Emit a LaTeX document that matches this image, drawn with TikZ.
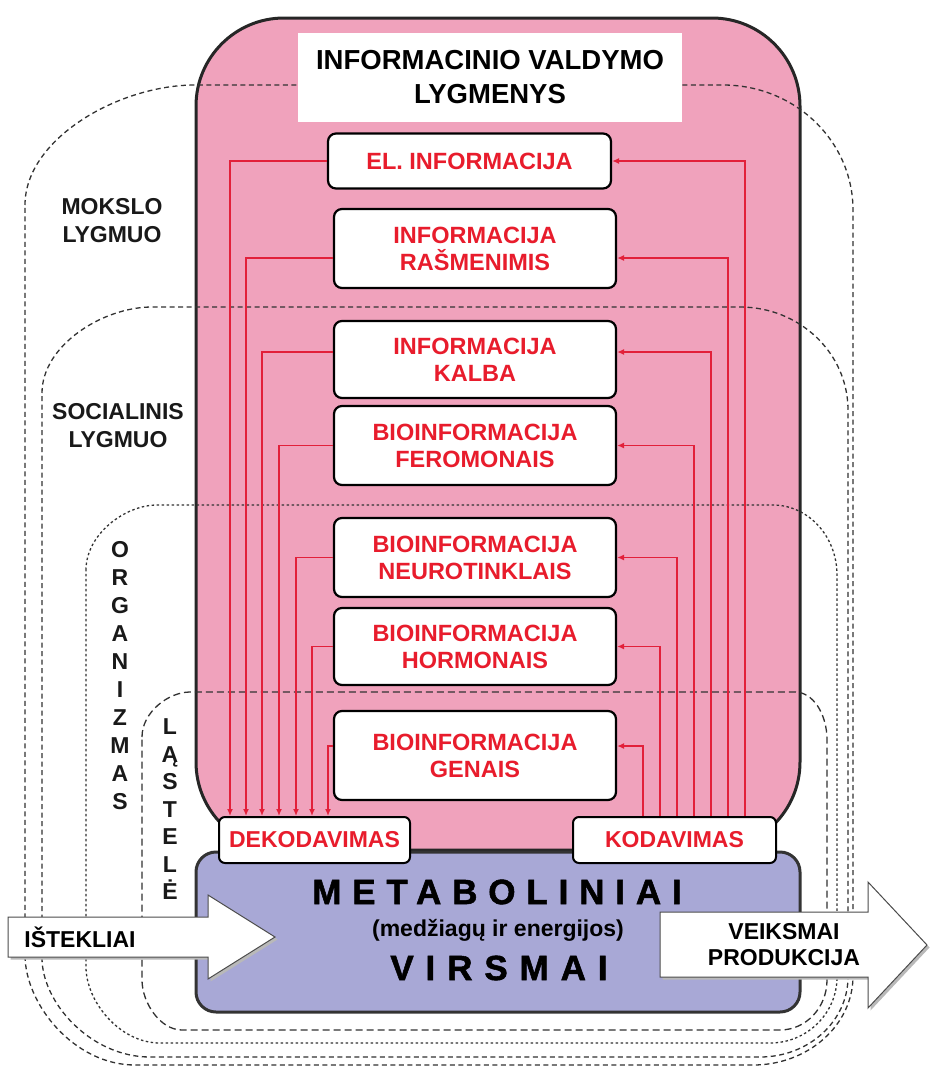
\documentclass[tikz,border=0pt]{standalone}
\usepackage{fontspec}
\setmainfont{Liberation Sans}
\usetikzlibrary{arrows.meta}
\definecolor{pinkfill}{RGB}{240,162,188}
\definecolor{lavfill}{RGB}{168,168,214}
\definecolor{linered}{RGB}{226,32,58}
\definecolor{textred}{RGB}{232,28,44}
\definecolor{dashgray}{RGB}{50,50,50}
\begin{document}
\begin{tikzpicture}[x=1pt,y=-1pt,
  infobox/.style={draw=black, line width=2.2pt, rounded corners=8pt, fill=white, text=textred,
    font=\bfseries\fontsize{23.5}{27}\selectfont, align=center, inner sep=0pt, minimum width=282pt},
  codebox/.style={draw=black, line width=2pt, rounded corners=6pt, fill=white, text=textred,
    font=\bfseries\fontsize{23}{27}\selectfont, inner sep=0pt, minimum height=46pt},
  conn/.style={draw=linered, line width=1.4pt, -{Latex[length=7pt,width=6pt]}},
  region/.style={draw=dashgray, line width=1.3pt},
  lbl/.style={font=\bfseries\fontsize{23}{28}\selectfont, align=center, text=black!90},
  bigarrow/.style={draw=black!70, line width=1pt, fill=white},
  arrowshadow/.style={fill=gray!55, draw=none},
  heavy/.style={font=\bfseries\fontsize{35}{35}\selectfont\addfontfeature{FakeBold=1.5,LetterSpace=#1}},
]
\useasboundingbox (0,0) rectangle (930,1068);
\fill[white] (0,0) rectangle (930,1068);

% pink information-control box
\draw[line width=3pt, draw=black!85, fill=pinkfill, rounded corners=88pt] (196,18) rectangle (800,850);

% dashed level regions
\draw[region, dash pattern=on 5pt off 3.5pt]
  (25,205) .. controls (25,138.8) and (118.8,85) .. (195,85) -- (723,85)
  .. controls (794.8,85) and (853,141) .. (853,210) -- (853,976)
  .. controls (853,1025.1) and (808.2,1065) .. (753,1065) -- (135,1065)
  .. controls (74.3,1065) and (25,1004.3) .. (25,955) -- cycle;
\draw[region, dash pattern=on 5pt off 3.5pt]
  (42,393) .. controls (42,345.5) and (102.7,307) .. (152,307) -- (740,307)
  .. controls (799.6,307) and (848,353.1) .. (848,410) -- (848,977)
  .. controls (848,1021.2) and (808.6,1057) .. (760,1057) -- (150,1057)
  .. controls (90.4,1057) and (42,1002.4) .. (42,958) -- cycle;
\draw[region, dash pattern=on 2.5pt off 2.5pt]
  (86,570) .. controls (86,534.1) and (125.2,505) .. (157,505) -- (773,505)
  .. controls (808.3,505) and (837,536.4) .. (837,575) -- (837,977)
  .. controls (837,1013.4) and (807,1043) .. (770,1043) -- (160,1043)
  .. controls (119.2,1043) and (86,1001) .. (86,967) -- cycle;
\draw[region, dash pattern=on 7pt off 4pt]
  (142,737) .. controls (142,712.2) and (168.5,692) .. (190,692) -- (795,692)
  .. controls (812.7,692) and (827,713.5) .. (827,740) -- (827,980)
  .. controls (827,1007.6) and (805.9,1030) .. (780,1030) -- (182,1030)
  .. controls (160,1030) and (142,1002.4) .. (142,980) -- cycle;

% title
\node[fill=white, minimum width=384pt, minimum height=89pt, inner sep=0pt,
      font=\bfseries\fontsize{27.5}{34}\selectfont, align=center] (title) at (490,77.5)
      {INFORMACINIO VALDYMO\\LYGMENYS};

% information boxes
\node[infobox, minimum width=283pt, minimum height=55pt] (el) at (469.5,161) {EL. INFORMACIJA};
\node[infobox, minimum height=79pt] (ras) at (475,248.5) {INFORMACIJA\\RAŠMENIMIS};
\node[infobox, minimum height=77pt] (kal) at (475,359.5) {INFORMACIJA\\KALBA};
\node[infobox, minimum height=79pt] (fer) at (475,445.5) {BIOINFORMACIJA\\FEROMONAIS};
\node[infobox, minimum height=79pt] (neu) at (475,557.5) {BIOINFORMACIJA\\NEUROTINKLAIS};
\node[infobox, minimum height=77pt] (hor) at (475,646.5) {BIOINFORMACIJA\\HORMONAIS};
\node[infobox, minimum height=89pt] (gen) at (475,755.5) {BIOINFORMACIJA\\GENAIS};

% metabolism box
\node[draw=black!80, line width=3pt, fill=lavfill, rounded corners=20pt,
      minimum width=604pt, minimum height=160pt, inner sep=0pt] (meta) at (498,932) {};

% coding boxes
\node[codebox, minimum width=191pt] (deko) at (314.5,840) {DEKODAVIMAS};
\node[codebox, minimum width=203pt] (koda) at (674.5,840) {KODAVIMAS};

% decoding connectors
\draw[conn] (el.west) -| ([xshift=-84.5pt]deko.north);
\draw[conn] ([yshift=-9.5pt]ras.west) -| ([xshift=-68.5pt]deko.north);
\draw[conn] ([yshift=7.5pt]kal.west) -| ([xshift=-52.5pt]deko.north);
\draw[conn] (fer.west) -| ([xshift=-35.5pt]deko.north);
\draw[conn] (neu.west) -| ([xshift=-18.5pt]deko.north);
\draw[conn] (hor.west) -| ([xshift=-2.5pt]deko.north);
\draw[conn] ([yshift=9.5pt]gen.west) -| ([xshift=13.5pt]deko.north);

% coding connectors
\draw[conn] ([xshift=70.5pt]koda.north) |- (el.east);
\draw[conn] ([xshift=53.5pt]koda.north) |- ([yshift=-9.5pt]ras.east);
\draw[conn] ([xshift=36.5pt]koda.north) |- ([yshift=7.5pt]kal.east);
\draw[conn] ([xshift=19.5pt]koda.north) |- (fer.east);
\draw[conn] ([xshift=2.5pt]koda.north) |- (neu.east);
\draw[conn] ([xshift=-14.5pt]koda.north) |- (hor.east);
\draw[conn] ([xshift=-31.5pt]koda.north) |- ([yshift=9.5pt]gen.east);

% input / output arrows
\fill[arrowshadow, shift={(2.5,2.5)}] (8,917) -- (208,917) -- (208,895) -- (275,937) -- (208,979) -- (208,957) -- (8,957) -- cycle;
\draw[bigarrow] (8,917) -- (208,917) -- (208,895) -- (275,937) -- (208,979) -- (208,957) -- (8,957) -- cycle;
\fill[arrowshadow, shift={(2.5,2.5)}] (660,912) -- (868,912) -- (868,882) -- (927,945) -- (868,1008) -- (868,977) -- (660,977) -- cycle;
\draw[bigarrow] (660,912) -- (868,912) -- (868,882) -- (927,945) -- (868,1008) -- (868,977) -- (660,977) -- cycle;

% texts
\node[heavy=31] (metab) at (497,892) {METABOLINIAI};
\node[font=\bfseries\fontsize{23}{23}\selectfont] (medz) at (498,930) {(medžiagų ir energijos)};
\node[heavy=34] (virs) at (499,968) {VIRSMAI};
\node[font=\bfseries\fontsize{23}{23}\selectfont] (istl) at (80,937) {IŠTEKLIAI};
\node[font=\bfseries\fontsize{23}{26}\selectfont, align=center] (veik) at (784,945) {VEIKSMAI\\PRODUKCIJA};

\node[lbl] (moks) at (112,221) {MOKSLO\\LYGMUO};
\node[lbl] (soc) at (118,426) {SOCIALINIS\\LYGMUO};
\node[lbl, font=\bfseries\fontsize{23}{28}\selectfont] (org) at (120,676) {O\\R\\G\\A\\N\\I\\Z\\M\\A\\S};
\node[lbl, font=\bfseries\fontsize{23}{27.5}\selectfont] (las) at (170,809.5) {L\\Ą\\S\\T\\E\\L\\Ė};
\end{tikzpicture}
\end{document}
